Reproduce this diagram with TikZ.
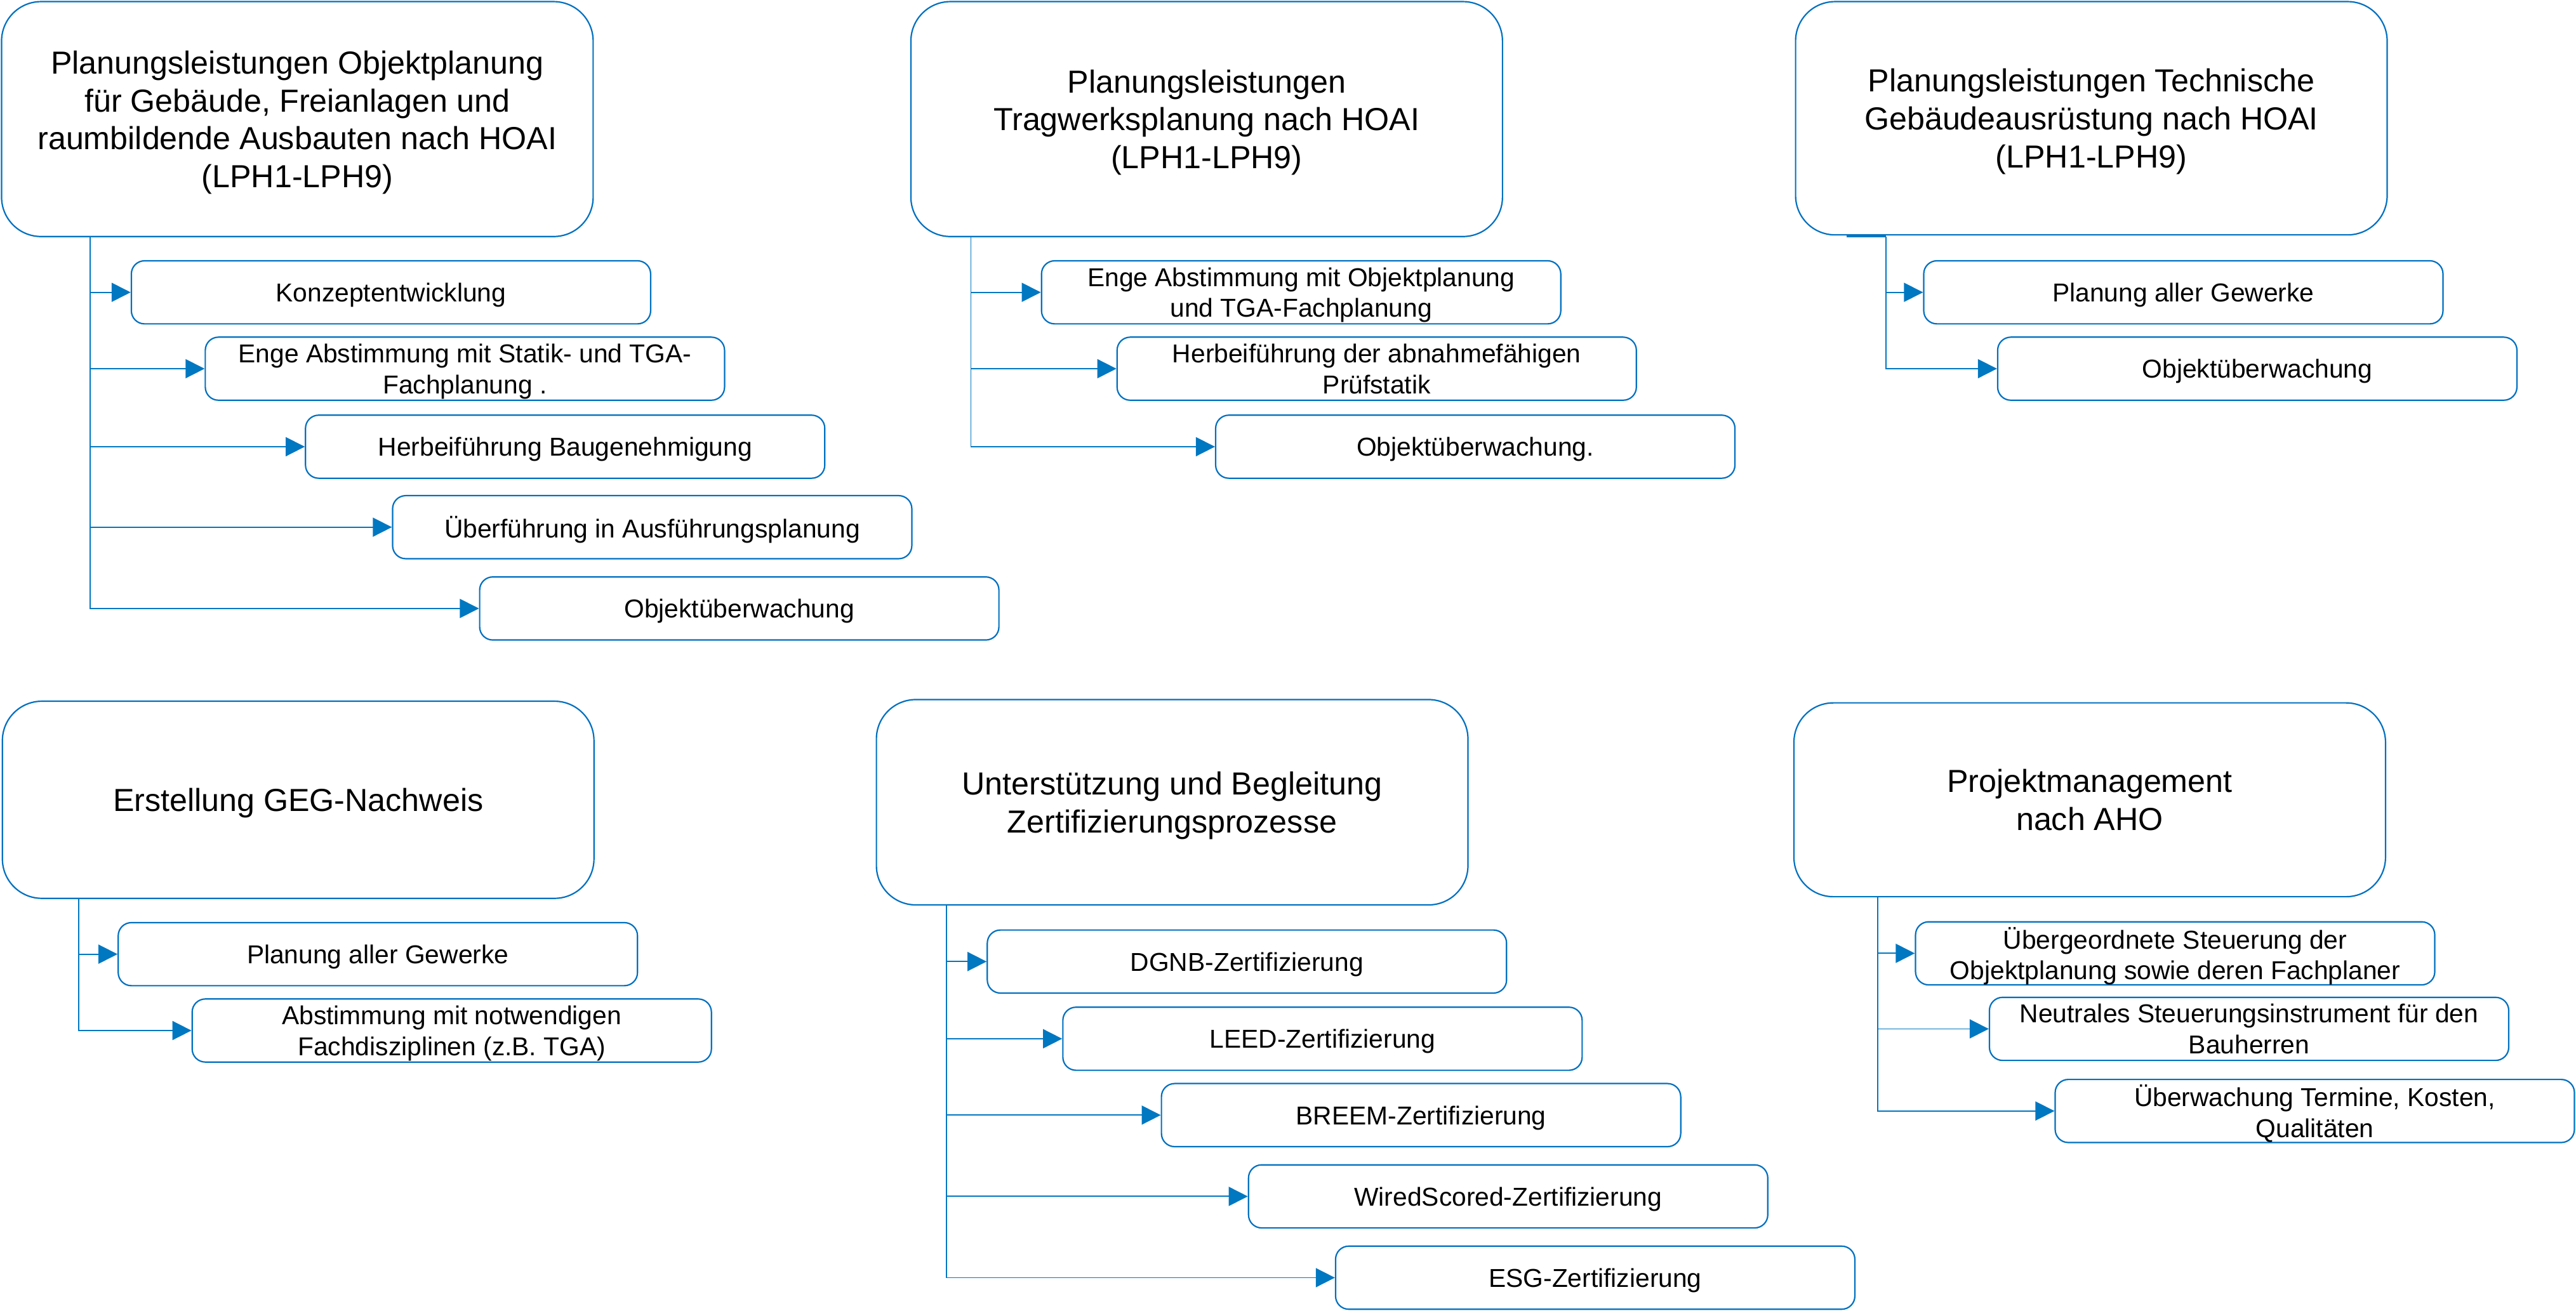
\documentclass[tikz,border=0pt]{standalone}
\usepackage{fontspec}
\setmainfont{Liberation Sans}
\usetikzlibrary{arrows.meta}
\definecolor{hblue}{HTML}{0070C0}
\definecolor{tipblue}{HTML}{0077C1}
\begin{document}
\begin{tikzpicture}[x=0.025cm,y=-0.025cm]
    \tikzstyle{head}=[draw=hblue,line width=0.6pt,rounded corners=0.6cm,minimum width=9cm,align=center,inner sep=0pt,text depth=0pt,font=\fontsize{13.8}{16.4}\selectfont];
    \tikzstyle{item}=[draw=hblue,line width=0.6pt,rounded corners=0.2cm,minimum width=7.9cm,minimum height=0.96cm,align=center,inner sep=0pt,text depth=0pt,font=\fontsize{11.2}{13.4}\selectfont];
    \tikzstyle{link}=[draw=tipblue,line width=0.5pt,-{Triangle[length=2.9mm,width=2.9mm]}];
    \tikzstyle{stub}=[draw=tipblue,line width=0.7pt];
    \useasboundingbox (0, 0) rectangle (1568, 798);

    % top row
    \node at (181, 72.5)  (g0) [head,minimum height=3.575cm] {Planungsleistungen Objektplanung\\für Gebäude, Freianlagen und\\raumbildende Ausbauten nach HOAI\\(LPH1-LPH9)};
    \node at (734.5, 72.5) (g1) [head,minimum height=3.575cm] {Planungsleistungen\\Tragwerksplanung nach HOAI\\(LPH1-LPH9)};
    \node at (1273, 72)   (g2) [head,minimum height=3.55cm] {Planungsleistungen Technische\\Gebäudeausrüstung nach HOAI\\(LPH1-LPH9)};

    \node at (238, 178)   (g0i1) [item] {Konzeptentwicklung};
    \node at (283, 224.5) (g0i2) [item] {Enge Abstimmung mit Statik- und TGA-\\Fachplanung .};
    \node at (344, 272)   (g0i3) [item] {Herbeiführung Baugenehmigung};
    \node at (397, 321)   (g0i4) [item] {Überführung in Ausführungsplanung};
    \node at (450, 370.5) (g0i5) [item] {Objektüberwachung};

    \node at (792, 178)   (g1i1) [item] {Enge Abstimmung mit Objektplanung\\und TGA-Fachplanung};
    \node at (838, 224.5) (g1i2) [item] {Herbeiführung der abnahmefähigen\\Prüfstatik};
    \node at (898, 272)   (g1i3) [item] {Objektüberwachung.};

    \node at (1329, 178)   (g2i1) [item] {Planung aller Gewerke};
    \node at (1374, 224.5) (g2i2) [item] {Objektüberwachung};

    % bottom row
    \node at (181.5, 487) (g3) [head,minimum height=3.0cm] {Erstellung GEG-Nachweis};
    \node at (713.5, 488.5) (g4) [head,minimum height=3.125cm] {Unterstützung und Begleitung\\Zertifizierungsprozesse};
    \node at (1272, 487)  (g5) [head,minimum height=2.95cm] {Projektmanagement\\nach AHO};

    \node at (230, 581)   (g3i1) [item] {Planung aller Gewerke};
    \node at (275, 627.5) (g3i2) [item] {Abstimmung mit notwendigen\\Fachdisziplinen (z.B. TGA)};

    \node at (759, 585.5) (g4i1) [item] {DGNB-Zertifizierung};
    \node at (805, 632.5) (g4i2) [item] {LEED-Zertifizierung};
    \node at (865, 679)   (g4i3) [item] {BREEM-Zertifizierung};
    \node at (918, 728.5) (g4i4) [item] {WiredScored-Zertifizierung};
    \node at (971, 778)   (g4i5) [item] {ESG-Zertifizierung};

    \node at (1324, 580.5) (g5i1) [item] {Übergeordnete Steuerung der\\Objektplanung sowie deren Fachplaner};
    \node at (1369, 626.5) (g5i2) [item] {Neutrales Steuerungsinstrument für den\\Bauherren};
    \node at (1409, 676.5) (g5i3) [item] {Überwachung Termine, Kosten,\\Qualitäten};

    % trunk points
    \coordinate (g0k) at (55, 144);
    \coordinate (g1k) at (591, 144);
    \coordinate (g2s) at (1124, 144);
    \coordinate (g2k) at (1148, 144);
    \coordinate (g3k) at (48, 547);
    \coordinate (g4s) at (556, 551);
    \coordinate (g4k) at (576, 551);
    \coordinate (g5s) at (1115, 546);
    \coordinate (g5k) at (1143, 546);

    \draw[stub] (g2s) -- (g2k);
    \draw[stub] (g4s) -- (g4k);
    \draw[stub] (g5s) -- (g5k);

    \draw[link] (g0k) |- (g0i1.west);
    \draw[link] (g0k) |- (g0i2.west);
    \draw[link] (g0k) |- (g0i3.west);
    \draw[link] (g0k) |- (g0i4.west);
    \draw[link] (g0k) |- (g0i5.west);

    \draw[link] (g1k) |- (g1i1.west);
    \draw[link] (g1k) |- (g1i2.west);
    \draw[link] (g1k) |- (g1i3.west);

    \draw[link] (g2k) |- (g2i1.west);
    \draw[link] (g2k) |- (g2i2.west);

    \draw[link] (g3k) |- (g3i1.west);
    \draw[link] (g3k) |- (g3i2.west);

    \draw[link] (g4k) |- (g4i1.west);
    \draw[link] (g4k) |- (g4i2.west);
    \draw[link] (g4k) |- (g4i3.west);
    \draw[link] (g4k) |- (g4i4.west);
    \draw[link] (g4k) |- (g4i5.west);

    \draw[link] (g5k) |- (g5i1.west);
    \draw[link] (g5k) |- (g5i2.west);
    \draw[link] (g5k) |- (g5i3.west);
\end{tikzpicture}
\end{document}
